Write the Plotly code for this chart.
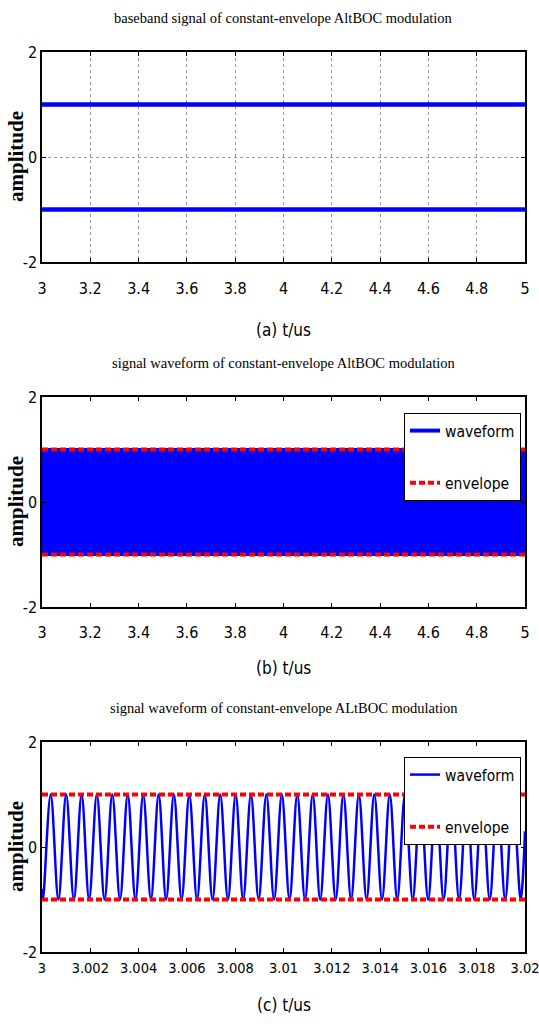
import plotly.graph_objects as go

# ---------------- data ----------------
# panel (a): baseband signal levels over 3..5 us
a_t = [3.0, 5.0]
a_upper = [1.0, 1.0]
a_lower = [-1.0, -1.0]

# panel (b): dense waveform seen as a solid band, plus envelope
b_t = [3.0, 5.0]
b_wave_max = [1.0, 1.0]
b_wave_min = [-1.0, -1.0]
b_env_upper = [1.0, 1.0]
b_env_lower = [-1.0, -1.0]

# panel (c): waveform extremes (t in us)
c_t = [3.0, 3.00004, 3.00036, 3.00068, 3.00100, 3.00132, 3.00164, 3.00195, 3.00227,
       3.00259, 3.00291, 3.00323, 3.00355, 3.00387, 3.00419, 3.00451, 3.00483,
       3.00514, 3.00546, 3.00578, 3.00610, 3.00642, 3.00674, 3.00706, 3.00738,
       3.00770, 3.00802, 3.00833, 3.00865, 3.00897, 3.00929, 3.00961, 3.00993,
       3.01025, 3.01057, 3.01089, 3.01121, 3.01152, 3.01184, 3.01216, 3.01248,
       3.01280, 3.01312, 3.01344, 3.01376, 3.01408, 3.01440, 3.01471, 3.01503,
       3.01535, 3.01567, 3.01599, 3.01631, 3.01663, 3.01695, 3.01727, 3.01759,
       3.01790, 3.01822, 3.01854, 3.01886, 3.01918, 3.01950, 3.01982, 3.02]
c_wave = [-0.8, -1, 1, -1, 1, -1, 1, -1, 1, -1, 1, -1, 1, -1, 1, -1, 1, -1, 1, -1, 1,
          -1, 1, -1, 1, -1, 1, -1, 1, -1, 1, -1, 1, -1, 1, -1, 1, -1, 1, -1, 1,
          -1, 1, -1, 1, -1, 1, -1, 1, -1, 1, -1, 1, -1, 1, -1, 1, -1, 1, -1, 1,
          -1, 1, -1, 0.3]
c_env_t = [3.0, 3.02]
c_env_upper = [1.0, 1.0]
c_env_lower = [-1.0, -1.0]

ab_ticks = [3, 3.2, 3.4, 3.6, 3.8, 4, 4.2, 4.4, 4.6, 4.8, 5]
ab_ticktext = ["3", "3.2", "3.4", "3.6", "3.8", "4", "4.2", "4.4", "4.6", "4.8", "5"]
c_ticks = [3, 3.002, 3.004, 3.006, 3.008, 3.01, 3.012, 3.014, 3.016, 3.018, 3.02]
c_ticktext = ["3", "3.002", "3.004", "3.006", "3.008", "3.01", "3.012", "3.014",
              "3.016", "3.018", "3.02"]
y_ticks = [-2, 0, 2]
y_ticktext = ["-2", "0", "2"]

titles = ["baseband signal of constant-envelope AltBOC modulation",
          "signal waveform of constant-envelope AltBOC modulation",
          "signal waveform of constant-envelope ALtBOC modulation"]
xlabels = ["(a) t/us", "(b) t/us", "(c) t/us"]
ylabel = "amplitude"

# ---------------- styling ----------------
W, H = 539, 1029
BLUE = "#0000FF"
RED = "#FF0000"
SANS = "Liberation Sans Narrow, DejaVu Sans Condensed, Liberation Sans, sans-serif"
SERIF = "Liberation Serif, Times New Roman, serif"

x0, x1 = 42, 525
panels_px = [(52, 262), (397, 607), (742, 952)]
tick_standoff = [11, 10, 2]
tick_size = [16, 16, 14.5]
xlabel_gap = [68, 61, 53]


def ydom(top, bot):
    return [1 - bot / H, 1 - top / H]


fig = go.Figure()

# panel a
fig.add_trace(go.Scatter(x=a_t, y=a_upper, mode="lines", line=dict(color=BLUE, width=4.5),
                         showlegend=False, xaxis="x", yaxis="y"))
fig.add_trace(go.Scatter(x=a_t, y=a_lower, mode="lines", line=dict(color=BLUE, width=4.5),
                         showlegend=False, xaxis="x", yaxis="y"))

# panel b
fig.add_trace(go.Scatter(x=b_t, y=b_wave_min, mode="lines", line=dict(color=BLUE, width=3),
                         showlegend=False, xaxis="x2", yaxis="y2"))
fig.add_trace(go.Scatter(x=b_t, y=b_wave_max, mode="lines", line=dict(color=BLUE, width=3),
                         fill="tonexty", fillcolor=BLUE, showlegend=False,
                         xaxis="x2", yaxis="y2"))
fig.add_trace(go.Scatter(x=[None], y=[None], mode="lines", name="waveform",
                         line=dict(color=BLUE, width=4), legend="legend",
                         legendgroup="w", xaxis="x2", yaxis="y2"))
fig.add_trace(go.Scatter(x=b_t, y=b_env_upper, mode="lines", name="envelope",
                         line=dict(color=RED, width=4, dash="6px,3px"), legend="legend",
                         legendgroup="e", xaxis="x2", yaxis="y2"))
fig.add_trace(go.Scatter(x=b_t, y=b_env_lower, mode="lines", showlegend=False,
                         line=dict(color=RED, width=4, dash="6px,3px"),
                         xaxis="x2", yaxis="y2"))

# panel c
fig.add_trace(go.Scatter(x=c_t, y=c_wave, mode="lines", name="waveform",
                         line=dict(color=BLUE, width=2.5, shape="spline", smoothing=1),
                         legend="legend2", legendgroup="w2", xaxis="x3", yaxis="y3"))
fig.add_trace(go.Scatter(x=c_env_t, y=c_env_upper, mode="lines", name="envelope",
                         line=dict(color=RED, width=4, dash="6px,3px"), legend="legend2",
                         legendgroup="e2", xaxis="x3", yaxis="y3"))
fig.add_trace(go.Scatter(x=c_env_t, y=c_env_lower, mode="lines", showlegend=False,
                         line=dict(color=RED, width=4, dash="6px,3px"),
                         xaxis="x3", yaxis="y3"))

axis_common = dict(showline=True, linecolor="black", linewidth=1.5, mirror="ticks",
                   ticks="inside", ticklen=4, tickcolor="black", zeroline=False,
                   automargin=False, ticklabeloverflow="allow")

layout = dict(template="none", width=W, height=H, autosize=False,
              margin=dict(l=0, r=0, t=0, b=0, pad=0, autoexpand=False),
              paper_bgcolor="white", plot_bgcolor="white")

xdom = [x0 / W, x1 / W]
for i, (top, bot) in enumerate(panels_px):
    sfx = "" if i == 0 else str(i + 1)
    grid = (i == 0)
    layout["xaxis" + sfx] = dict(axis_common, domain=xdom, anchor="y" + sfx,
                                 range=[3, 5] if i < 2 else [3, 3.02],
                                 tickvals=ab_ticks if i < 2 else c_ticks,
                                 ticktext=ab_ticktext if i < 2 else c_ticktext,
                                 ticklabelstandoff=tick_standoff[i],
                                 tickfont=dict(family=SANS, size=tick_size[i],
                                               color="black"),
                                 showgrid=grid, gridcolor="#9a9a9a", griddash="dot",
                                 gridwidth=1)
    layout["yaxis" + sfx] = dict(axis_common, domain=ydom(top, bot), anchor="x" + sfx,
                                 range=[-2, 2], tickvals=y_ticks, ticktext=y_ticktext,
                                 tickfont=dict(family=SANS, size=16, color="black"),
                                 showgrid=grid, gridcolor="#9a9a9a", griddash="dot",
                                 gridwidth=1)

legend_common = dict(bgcolor="white", bordercolor="black", borderwidth=1,
                     font=dict(family=SANS, size=15.5, color="black"),
                     xanchor="right", yanchor="top", tracegroupgap=29,
                     itemwidth=30)
layout["legend"] = dict(legend_common, x=521 / W, y=1 - 413 / H)
layout["legend2"] = dict(legend_common, x=521 / W, y=1 - 757 / H)

annotations = []
cx = (x0 + x1) / 2 / W
for i, (top, bot) in enumerate(panels_px):
    annotations.append(dict(text=titles[i], x=cx, y=1 - (top - 34) / H, xref="paper",
                            yref="paper", showarrow=False, xanchor="center",
                            yanchor="middle",
                            font=dict(family=SERIF, size=14.5, color="black")))
    annotations.append(dict(text=xlabels[i], x=cx, y=1 - (bot + xlabel_gap[i]) / H,
                            xref="paper", yref="paper", showarrow=False,
                            xanchor="center", yanchor="middle",
                            font=dict(family=SANS, size=17, color="black")))
    annotations.append(dict(text="<b>" + ylabel + "</b>", x=16 / W,
                            y=1 - ((top + bot) / 2) / H, xref="paper", yref="paper",
                            showarrow=False, textangle=-90, xanchor="center",
                            yanchor="middle",
                            font=dict(family=SERIF, size=21, color="black")))
layout["annotations"] = annotations

fig.update_layout(**layout)
fig.write_html("out.html", config={"displayModeBar": False},
               post_script="document.body.style.margin='0';"
                           "document.body.style.overflow='hidden';")
